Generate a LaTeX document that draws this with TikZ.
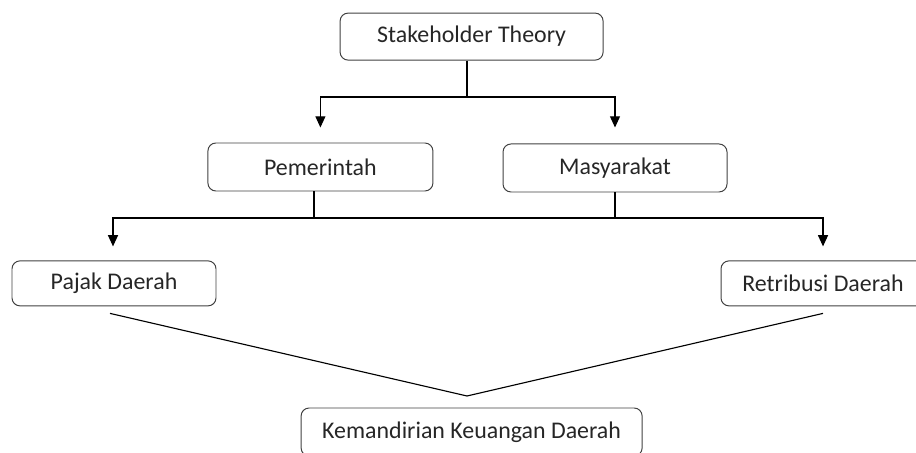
\documentclass[tikz,border=0pt]{standalone}
\usepackage{fontspec}
\setmainfont{Carlito}
\usepackage{tikz}
\usetikzlibrary{arrows.meta,calc}
\tikzset{
	kotak/.style={draw=black!75, line width=0.7pt, rounded corners=0.2cm, inner sep=0pt, align=center, font=\fontsize{17}{20}\selectfont, text=black!85},
	panah/.style={line width=0.8pt, -{Triangle[width=0.25cm,length=0.28cm]}},
	garis/.style={line width=0.8pt}
}

\begin{document}
\begin{tikzpicture}
			%%%%% START %%%%%
			\useasboundingbox (0, 0) rectangle (22.9, 11.325);
			
			\node[kotak, minimum width=6.575cm, minimum height=1.175cm] (stk) at (11.79, 10.41) {Stakeholder Theory};
			
			\node[kotak, minimum width=5.625cm, minimum height=1.2cm] (pem) at (8.01, 7.15) {Pemerintah};
			\node[kotak, minimum width=5.6cm, minimum height=1.2cm] (mas) at (15.375, 7.125) {Masyarakat};
			
			\node[kotak, minimum width=5.1cm, minimum height=1.125cm] (paj) at (2.85, 4.24) {Pajak Daerah};
			\node[kotak, minimum width=5.1cm, minimum height=1.125cm] (ret) at (20.575, 4.24) {Retribusi Daerah};
			
			\node[kotak, minimum width=8.525cm, minimum height=1.2cm] (kem) at (11.79, 0.525) {Kemandirian Keuangan Daerah};
			
			\coordinate (b1) at (11.675, 8.9);
			\draw[garis] (stk.south -| b1) -- (b1);
			\draw[panah, shorten >=0.375cm] (b1) -| (pem.north);
			\draw[panah, shorten >=0.4cm] (b1) -| (mas.north);
			
			\coordinate (b2) at (7.85, 5.875);
			\draw[garis] (pem.south -| b2) -- (b2);
			\draw[garis] (mas.south) -- (mas.south |- b2);
			\draw[panah, shorten >=0.35cm] (b2) -| ([xshift=-0.025cm]paj.north);
			\draw[panah, shorten >=0.35cm] (b2) -| (ret.north);
			
			\coordinate (pucuk) at (11.675, 1.425);
			\draw[garis] ($(paj.south)+(-0.1, -0.175)$) -- (pucuk) -- ($(ret.south)+(0, -0.175)$);
			
			%%%%% END %%%%%
		\end{tikzpicture}
\end{document}
